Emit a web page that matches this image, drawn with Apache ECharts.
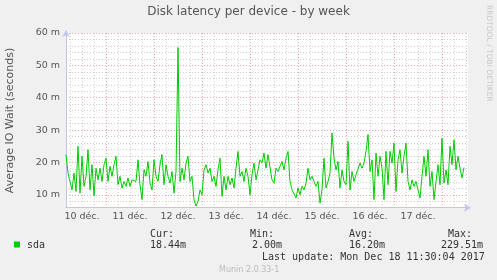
<!DOCTYPE html>
<html>
<head>
<meta charset="utf-8">
<script src="https://cdn.jsdelivr.net/npm/echarts@6/dist/echarts.min.js"></script>
<style>
html,body{margin:0;padding:0;background:#f0f0f0;}
#chart{width:497px;height:280px;}
</style>
</head>
<body>
<div id="chart"></div>
<script>
// Hours since 10 déc. 00:00 — axis spans 04:00 on 10 déc. to 13:00 on 18 déc.
const startHour = 4;
const endHour = 205;
const dayLabels = ['10 déc.', '11 déc.', '12 déc.', '13 déc.', '14 déc.', '15 déc.', '16 déc.', '17 déc.'];
const yTickLabels = [10, 20, 30, 40, 50, 60];

// sda average IO wait (milliseconds), one sample per hour from hour 4
const sda = [
  22.4, 16.7, 14.1, 11.5, 16.7, 11.0, 25.0, 10.5, 21.9, 12.6, 15.7, 23.9, 11.5, 19.3, 9.7, 18.2, 14.6, 18.2, 14.1, 19.3,
  21.3, 14.1, 18.8, 15.7, 19.3, 21.9, 13.1, 15.7, 12.1, 14.1, 12.6, 15.2, 12.6, 14.6,
  15.2, 14.1, 20.8, 13.1, 8.5, 17.7, 15.7, 20.3, 13.6, 11.5, 20.8, 15.7, 14.1, 19.3, 22.4, 13.1, 19.3, 15.7, 13.6, 17.2,
  10.5, 17.2, 55.5, 14.1, 18.2, 14.6, 19.8, 21.9, 14.1, 15.7, 8.5, 6.5, 8.0, 11.5,
  10.0, 17.7, 19.3, 16.7, 18.2, 14.1, 15.7, 12.6, 17.7, 21.3, 9.5, 15.7, 11.5, 15.7, 13.1, 15.2, 12.1, 18.2, 23.4, 15.7,
  17.2, 14.1, 18.2, 15.7, 10.0, 16.2, 19.8, 14.6, 17.7, 20.8, 19.8, 22.9, 18.2, 22.4,
  22.9, 14.6, 13.6, 18.2, 17.2, 18.8, 20.3, 17.7, 21.3, 23.4, 14.1, 11.5, 12.1, 9.0, 12.1, 10.0, 12.6, 11.5, 13.6, 18.2,
  14.6, 15.7, 14.1, 12.6, 14.1, 7.4, 11.5, 21.3, 12.1, 14.1, 16.7, 29.1, 21.3, 17.7,
  20.3, 12.1, 17.7, 14.1, 13.1, 26.5, 11.5, 17.2, 14.1, 16.2, 15.7, 19.8, 18.2, 19.8, 23.4, 28.6, 17.2, 20.8, 8.5, 22.9,
  15.7, 21.9, 18.2, 8.5, 23.4, 13.1, 23.4, 19.8, 26.0, 11.0, 20.8, 23.9, 16.7, 21.9,
  26.0, 14.1, 11.5, 14.6, 12.6, 14.1, 11.5, 9.0, 15.7, 21.9, 15.7, 23.9, 12.6, 17.2, 8.5, 14.1, 19.3, 13.1, 27.5, 13.6,
  17.7, 13.1, 25.0, 19.3, 27.0, 17.7, 21.9, 18.2, 15.2, 18.4
];

const legendSeries = 'sda';
const statHeaders = ['Cur:', 'Min:', 'Avg:', 'Max:'];
const statValues = ['18.44m', '2.00m', '16.20m', '229.51m'];
const lastUpdate = 'Last update: Mon Dec 18 11:30:04 2017';
const titleText = 'Disk latency per device - by week';
const yName = 'Average IO Wait (seconds)';
const sideText = 'RRDTOOL / TOBI OETIKER';
const footer = 'Munin 2.0.33-1';

const hours = [];
for (let h = startHour; h <= endHour; h++) hours.push(String(h));

const GRAY = '#cfcfcf';
const RED = '#eba3a3';
const AXIS = '#c4c4ee';
const MONO = '"DejaVu Sans Mono", monospace';
const SANS = '"DejaVu Sans", sans-serif';

const chart = echarts.init(document.getElementById('chart'), null, {renderer: 'canvas'});

const statX = [150, 250, 349, 448];
const valX = [150, 252, 349, 441];

const graphics = [
  {type: 'text', left: 'center', top: 6, style: {text: titleText, font: '12px ' + SANS, fill: '#555'}},
  {type: 'text', x: 10, y: 120.5, rotation: Math.PI / 2,
    style: {text: yName, font: '11px ' + SANS, fill: '#555', align: 'center', verticalAlign: 'middle'}},
  {type: 'text', x: 489, y: 5, rotation: -Math.PI / 2,
    style: {text: sideText, font: '7.5px ' + SANS, fill: '#c8c8c8', align: 'left', verticalAlign: 'middle'}},
  {type: 'rect', shape: {x: 14, y: 241.5, width: 6, height: 6}, style: {fill: '#00cc00'}},
  {type: 'text', x: 27, y: 245.5, style: {text: legendSeries, font: '10px ' + MONO, fill: '#333', verticalAlign: 'middle'}},
  {type: 'text', x: 262, y: 257.5, style: {text: lastUpdate, font: '10px ' + MONO, fill: '#333', verticalAlign: 'middle'}},
  {type: 'text', x: 219, y: 269.5, style: {text: footer, font: '8px ' + SANS, fill: '#bbb', verticalAlign: 'middle'}}
];
statHeaders.forEach((t, i) => graphics.push({type: 'text', x: statX[i], y: 234, style: {text: t, font: '10px ' + MONO, fill: '#333', verticalAlign: 'middle'}}));
statValues.forEach((t, i) => graphics.push({type: 'text', x: valX[i], y: 245.5, style: {text: t, font: '10px ' + MONO, fill: '#333', verticalAlign: 'middle'}}));

chart.setOption({
  animation: false,
  backgroundColor: '#f0f0f0',
  grid: {left: 66, top: 33, width: 402, height: 174.7, show: true, backgroundColor: '#ffffff', borderWidth: 0, containLabel: false},
  xAxis: {
    type: 'category',
    data: hours,
    boundaryGap: false,
    axisLine: {show: true, onZero: false, lineStyle: {color: AXIS, width: 1}, symbol: ['none', 'arrow'], symbolSize: [6, 7], symbolOffset: [0, 3]},
    axisTick: {show: false},
    axisLabel: {
      interval: (idx, val) => Number(val) % 24 === 12,
      formatter: (val) => { const h = Number(val); return h % 24 === 12 ? dayLabels[(h - 12) / 24] || '' : ''; },
      fontSize: 9.5, fontFamily: SANS, color: '#555', margin: 4
    },
    splitLine: {
      show: true,
      interval: (idx, val) => Number(val) % 6 === 0,
      lineStyle: {color: [GRAY, GRAY, GRAY, RED], type: [1, 2], width: 1}
    }
  },
  yAxis: {
    type: 'value',
    min: 6, max: 60, interval: 2,
    axisLine: {show: true, onZero: false, lineStyle: {color: AXIS, width: 1}, symbol: ['none', 'arrow'], symbolSize: [6, 7], symbolOffset: [0, 3]},
    axisTick: {show: false},
    axisLabel: {
      formatter: (v) => yTickLabels.indexOf(v) >= 0 ? v + ' m' : '',
      fontSize: 9.5, fontFamily: SANS, color: '#555', margin: 6
    },
    splitLine: {show: true, lineStyle: {color: [GRAY, GRAY, RED, GRAY, GRAY], type: [1, 2], width: 1}}
  },
  series: [{
    type: 'line',
    data: sda,
    showSymbol: false,
    symbol: 'none',
    lineStyle: {color: '#00cc00', width: 1},
    itemStyle: {color: '#00cc00'},
    clip: true
  }],
  graphic: graphics
});
</script>
</body>
</html>
